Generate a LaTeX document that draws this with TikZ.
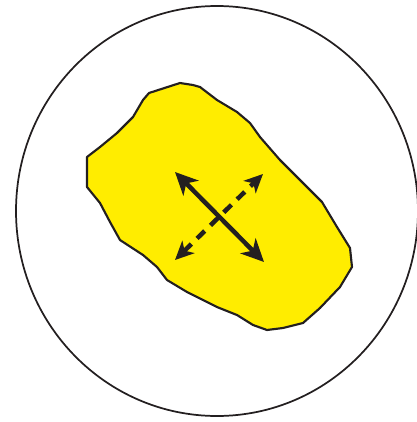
\documentclass[tikz,border=0pt]{standalone}
\usetikzlibrary{arrows.meta}
\definecolor{blobyellow}{RGB}{255,237,0}
\definecolor{ink}{RGB}{35,31,32}
\tikzset{
  outline/.style={draw=ink, line width=1.3pt},
  blob/.style={draw=ink, fill=blobyellow, line width=1.6pt, line join=round},
  arr/.style={draw=ink, line width=3.4pt, {Stealth[length=17pt,width=16pt,inset=5pt]}-{Stealth[length=17pt,width=16pt,inset=5pt]}},
  darr/.style={draw=ink, line width=3.4pt, dash pattern=on 8pt off 6pt, {Stealth[length=14pt,width=13pt,inset=4pt]}-{Stealth[length=14pt,width=13pt,inset=4pt]}}
}
\begin{document}
\begin{tikzpicture}[x=0.75pt,y=-0.75pt]
\useasboundingbox (0,0) rectangle (417,422);
\draw[outline] (217,211) ellipse [x radius=201, y radius=205];
\draw[blob] (149,93) -- (180,83) -- (193,85) -- (200,87) -- (217,100) -- (237,112) -- (250,123) -- (260,137) -- (280,160) -- (300,180) -- (322,202) -- (337,227) -- (350,248) -- (352,267) -- (340,287) -- (320,308) -- (303,323) -- (283,328) -- (267,330) -- (253,325) -- (237,315) -- (217,307) -- (187,292) -- (167,280) -- (157,267) -- (143,255) -- (120,240) -- (110,222) -- (100,203) -- (87,187) -- (87,157) -- (100,147) -- (117,133) -- (133,117) -- (143,100) -- cycle;
\coordinate (s1) at (175,172);
\coordinate (s2) at (264,262);
\coordinate (d1) at (263,174);
\coordinate (d2) at (175,260);
\draw[darr] (d2) -- (d1);
\draw[arr] (s1) -- (s2);
\end{tikzpicture}
\end{document}
